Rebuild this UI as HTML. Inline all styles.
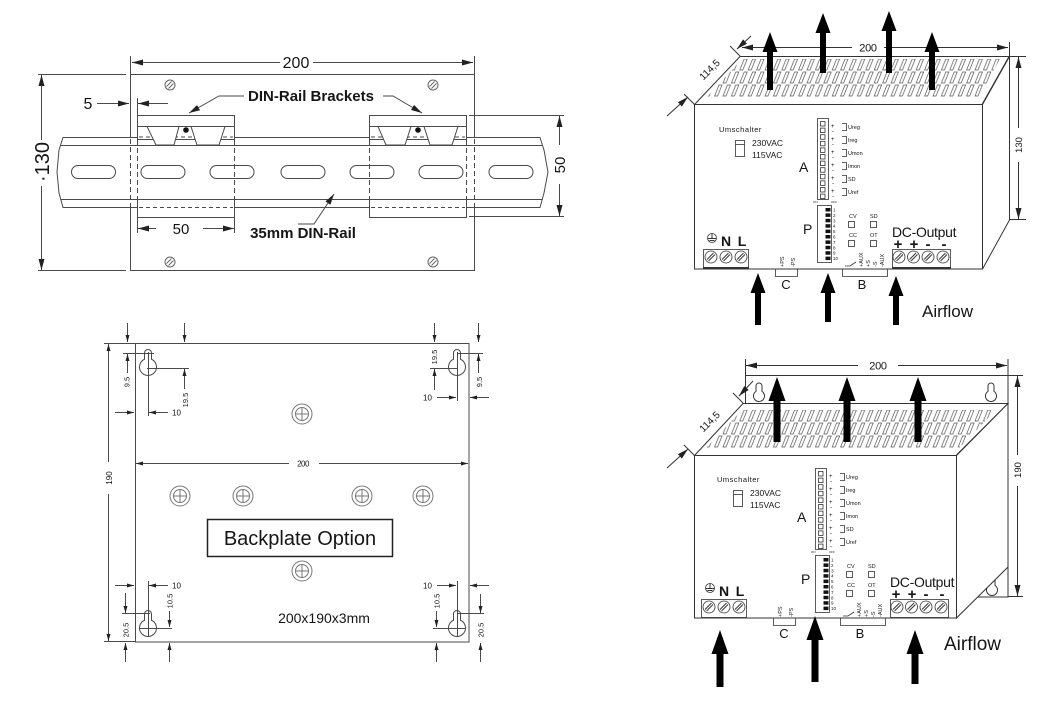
<!DOCTYPE html>
<html><head><meta charset="utf-8">
<style>
html,body{margin:0;padding:0;background:#fff;}
svg{display:block;}
text{font-family:"Liberation Sans",Arial,sans-serif;fill:#151515;}
</style></head><body>
<svg width="1060" height="703" viewBox="0 0 1060 703" xmlns="http://www.w3.org/2000/svg">
<defs>
<marker id="a" viewBox="0 0 11 6" refX="11" refY="3" markerWidth="11" markerHeight="6" orient="auto" markerUnits="userSpaceOnUse"><path d="M0,0L11,3L0,6z" fill="#222"/></marker>
<marker id="s" viewBox="0 0 7 4" refX="7" refY="2" markerWidth="7" markerHeight="4" orient="auto" markerUnits="userSpaceOnUse"><path d="M0,0L7,2L0,4z" fill="#222"/></marker>
<pattern id="g" x="0" y="6" width="8.4" height="13" patternUnits="userSpaceOnUse"><path d="M0.6,12 L3.6,12 L8,1 L5,1 Z" fill="none" stroke="#555" stroke-width="0.7"/></pattern>
</defs>

<!-- ================= DIN RAIL DRAWING ================= -->
<g stroke="#4a4a4a" stroke-width="1" fill="none">
  <rect x="130.5" y="74.5" width="344" height="196" fill="#fff"/>
  <line x1="130.5" y1="56" x2="130.5" y2="74"/>
  <line x1="474.5" y1="56" x2="474.5" y2="74"/>
  <!-- screws -->
  <g stroke="#666">
    <circle cx="170" cy="85" r="5"/><line x1="166.5" y1="86.5" x2="171.5" y2="81.5"/><line x1="168.5" y1="88.5" x2="173.5" y2="83.5"/>
    <circle cx="433" cy="85" r="5"/><line x1="429.5" y1="86.5" x2="434.5" y2="81.5"/><line x1="431.5" y1="88.5" x2="436.5" y2="83.5"/>
    <circle cx="170" cy="262" r="5"/><line x1="166.5" y1="263.5" x2="171.5" y2="258.5"/><line x1="168.5" y1="265.5" x2="173.5" y2="260.5"/>
    <circle cx="433" cy="262" r="5"/><line x1="429.5" y1="263.5" x2="434.5" y2="258.5"/><line x1="431.5" y1="265.5" x2="436.5" y2="260.5"/>
  </g>
  <!-- rail -->
  <path d="M63,137.5 L540,137.5 L544,150 L548,172 L544,193 L540,207.5 L63,207.5 L59,193 L57,172 L59,150 Z" fill="#fff"/>
  <line x1="61" y1="145.5" x2="542" y2="145.5"/>
  <line x1="61" y1="199.5" x2="542" y2="199.5"/>
  <g>
    <rect x="71.5" y="165.5" width="44" height="13" rx="6.5"/>
    <rect x="141" y="165.5" width="44" height="13" rx="6.5"/>
    <rect x="210" y="165.5" width="44" height="13" rx="6.5"/>
    <rect x="281" y="165.5" width="44" height="13" rx="6.5"/>
    <rect x="350" y="165.5" width="44" height="13" rx="6.5"/>
    <rect x="419" y="165.5" width="44" height="13" rx="6.5"/>
    <rect x="489" y="165.5" width="44" height="13" rx="6.5"/>
  </g>
  <!-- left bracket -->
  <rect x="137.5" y="115.5" width="97" height="24" fill="#fff"/>
  <line x1="137.5" y1="126.5" x2="234.5" y2="126.5"/>
  <line x1="139" y1="137" x2="233" y2="137" stroke-dasharray="4,3"/>
  <polygon points="147,126.5 156,145 174,145 179,126.5" fill="#fff"/>
  <polygon points="191,126.5 197,145 219,145 225,126.5" fill="#fff"/>
  <rect x="137.5" y="199.5" width="97" height="18" fill="#fff"/>
  <line x1="139" y1="207.5" x2="233" y2="207.5" stroke-dasharray="4,3"/>
  <!-- right bracket -->
  <rect x="369.5" y="115.5" width="97" height="24" fill="#fff"/>
  <line x1="369.5" y1="126.5" x2="466.5" y2="126.5"/>
  <line x1="371" y1="137" x2="465" y2="137" stroke-dasharray="4,3"/>
  <polygon points="378,126.5 386,145 405,145 411,126.5" fill="#fff"/>
  <polygon points="424,126.5 430,145 452,145 458,126.5" fill="#fff"/>
  <rect x="369.5" y="199.5" width="97" height="18" fill="#fff"/>
  <line x1="371" y1="207.5" x2="465" y2="207.5" stroke-dasharray="4,3"/>
  <!-- dashed verticals across rail -->
  <g stroke-dasharray="5,3">
    <line x1="130.5" y1="139" x2="130.5" y2="207"/>
    <line x1="137.5" y1="140" x2="137.5" y2="199"/>
    <line x1="234.5" y1="140" x2="234.5" y2="199"/>
    <line x1="369.5" y1="140" x2="369.5" y2="199"/>
    <line x1="466.5" y1="140" x2="466.5" y2="199"/>
    <line x1="474.5" y1="139" x2="474.5" y2="207"/>
  </g>
  <!-- dims -->
  <line x1="280" y1="62.5" x2="132" y2="62.5" marker-end="url(#a)"/>
  <line x1="313" y1="62.5" x2="473" y2="62.5" marker-end="url(#a)"/>
  <line x1="38" y1="74.5" x2="126" y2="74.5"/>
  <line x1="38" y1="270.5" x2="126" y2="270.5"/>
  <line x1="41.5" y1="140" x2="41.5" y2="75" marker-end="url(#a)"/>
  <line x1="41.5" y1="186" x2="41.5" y2="270" marker-end="url(#a)"/>
  <line x1="97" y1="103.5" x2="129" y2="103.5" marker-end="url(#a)"/>
  <line x1="168" y1="103.5" x2="138" y2="103.5" marker-end="url(#a)"/>
  <line x1="137.5" y1="98" x2="137.5" y2="115"/>
  <polyline points="244,96 219,96 189,113" marker-end="url(#a)"/>
  <polyline points="383,96 393,96 422,113" marker-end="url(#a)"/>
  <line x1="137.5" y1="217" x2="137.5" y2="233"/>
  <line x1="234.5" y1="217" x2="234.5" y2="233"/>
  <line x1="156" y1="228.5" x2="138" y2="228.5" marker-end="url(#a)"/>
  <line x1="203" y1="228.5" x2="234" y2="228.5" marker-end="url(#a)"/>
  <polyline points="298,224 314,224 334,194" marker-end="url(#a)"/>
  <line x1="469" y1="115.5" x2="564" y2="115.5"/>
  <line x1="469" y1="216.5" x2="564" y2="216.5"/>
  <line x1="559.5" y1="145" x2="559.5" y2="116" marker-end="url(#a)"/>
  <line x1="559.5" y1="184" x2="559.5" y2="216" marker-end="url(#a)"/>
</g>
<circle cx="186" cy="130" r="2.8" fill="#111"/>
<circle cx="418" cy="130" r="2.8" fill="#111"/>
<text x="296" y="68" font-size="16" text-anchor="middle">200</text>
<text x="49" y="162" font-size="20" text-anchor="middle" transform="rotate(-90 49 162)">·130</text>
<text x="88" y="109" font-size="16" text-anchor="middle">5</text>
<text x="311" y="101" font-size="15" font-weight="bold" text-anchor="middle">DIN-Rail Brackets</text>
<text x="181" y="234" font-size="15" text-anchor="middle">50</text>
<text x="303" y="238" font-size="15" font-weight="bold" text-anchor="middle">35mm DIN-Rail</text>
<text x="565" y="165" font-size="15" text-anchor="middle" transform="rotate(-90 565 165)">50</text>

<!-- ================= BACKPLATE DRAWING ================= -->
<g stroke="#4a4a4a" stroke-width="1" fill="none">
  <rect x="135.5" y="343.5" width="333.5" height="298.5"/>
  <!-- keyholes -->
  <path d="M144.5,353 A3.5 3.5 0 0 1 151.5,353 L151.5,359.25 A8.5 8.5 0 1 1 144.5,359.25 Z"/>
  <path d="M453.5,353 A3.5 3.5 0 0 1 460.5,353 L460.5,359.25 A8.5 8.5 0 1 1 453.5,359.25 Z"/>
  <path d="M144.5,614 A3.5 3.5 0 0 1 151.5,614 L151.5,620.25 A8.5 8.5 0 1 1 144.5,620.25 Z"/>
  <path d="M453.5,614 A3.5 3.5 0 0 1 460.5,614 L460.5,620.25 A8.5 8.5 0 1 1 453.5,620.25 Z"/>
  <!-- screws -->
  <g stroke="#777">
    <circle cx="302" cy="414" r="10"/><circle cx="302" cy="414" r="6.5"/><line x1="295" y1="414" x2="309" y2="414"/><line x1="302" y1="407" x2="302" y2="421"/>
    <circle cx="180" cy="496" r="10"/><circle cx="180" cy="496" r="6.5"/><line x1="173" y1="496" x2="187" y2="496"/><line x1="180" y1="489" x2="180" y2="503"/>
    <circle cx="243" cy="496" r="10"/><circle cx="243" cy="496" r="6.5"/><line x1="236" y1="496" x2="250" y2="496"/><line x1="243" y1="489" x2="243" y2="503"/>
    <circle cx="362" cy="496" r="10"/><circle cx="362" cy="496" r="6.5"/><line x1="355" y1="496" x2="369" y2="496"/><line x1="362" y1="489" x2="362" y2="503"/>
    <circle cx="423" cy="496" r="10"/><circle cx="423" cy="496" r="6.5"/><line x1="416" y1="496" x2="430" y2="496"/><line x1="423" y1="489" x2="423" y2="503"/>
    <circle cx="302" cy="571" r="10"/><circle cx="302" cy="571" r="6.5"/><line x1="295" y1="571" x2="309" y2="571"/><line x1="302" y1="564" x2="302" y2="578"/>
  </g>
  <!-- 190 / 200 -->
  <line x1="104" y1="343.5" x2="135" y2="343.5"/>
  <line x1="104" y1="641.5" x2="135" y2="641.5"/>
  <line x1="108.5" y1="462" x2="108.5" y2="344" marker-end="url(#s)"/>
  <line x1="108.5" y1="494" x2="108.5" y2="641" marker-end="url(#s)"/>
  <line x1="289" y1="463.5" x2="136" y2="463.5" marker-end="url(#s)"/>
  <line x1="319" y1="463.5" x2="468" y2="463.5" marker-end="url(#s)"/>
  <!-- TL -->
  <line x1="127.5" y1="323" x2="127.5" y2="342" marker-end="url(#s)"/>
  <line x1="127.5" y1="373" x2="127.5" y2="354" marker-end="url(#s)"/>
  <line x1="123" y1="353.5" x2="154" y2="353.5"/>
  <line x1="184.5" y1="323" x2="184.5" y2="342" marker-end="url(#s)"/>
  <line x1="184.5" y1="389" x2="184.5" y2="369" marker-end="url(#s)"/>
  <line x1="147" y1="368.5" x2="189" y2="368.5"/>
  <line x1="148.5" y1="352" x2="148.5" y2="416"/>
  <line x1="115" y1="412.5" x2="134" y2="412.5" marker-end="url(#s)"/>
  <line x1="168" y1="412.5" x2="149" y2="412.5" marker-end="url(#s)"/>
  <!-- TR -->
  <line x1="434.5" y1="323" x2="434.5" y2="342" marker-end="url(#s)"/>
  <line x1="434.5" y1="390" x2="434.5" y2="369" marker-end="url(#s)"/>
  <line x1="430" y1="368.5" x2="458" y2="368.5"/>
  <line x1="478.5" y1="323" x2="478.5" y2="342" marker-end="url(#s)"/>
  <line x1="478.5" y1="373" x2="478.5" y2="354" marker-end="url(#s)"/>
  <line x1="457" y1="353.5" x2="483" y2="353.5"/>
  <line x1="457.5" y1="352" x2="457.5" y2="401"/>
  <line x1="437" y1="397.5" x2="456" y2="397.5" marker-end="url(#s)"/>
  <line x1="489" y1="397.5" x2="470" y2="397.5" marker-end="url(#s)"/>
  <!-- BL -->
  <line x1="115" y1="585.5" x2="134" y2="585.5" marker-end="url(#s)"/>
  <line x1="168" y1="585.5" x2="149" y2="585.5" marker-end="url(#s)"/>
  <line x1="148.5" y1="581" x2="148.5" y2="637"/>
  <line x1="125.5" y1="593" x2="125.5" y2="613" marker-end="url(#s)"/>
  <line x1="125.5" y1="662" x2="125.5" y2="643" marker-end="url(#s)"/>
  <line x1="122" y1="613.5" x2="150" y2="613.5"/>
  <line x1="169.5" y1="611" x2="169.5" y2="627" marker-end="url(#s)"/>
  <line x1="169.5" y1="662" x2="169.5" y2="643" marker-end="url(#s)"/>
  <line x1="140" y1="628.5" x2="172" y2="628.5"/>
  <!-- BR -->
  <line x1="437" y1="585.5" x2="456" y2="585.5" marker-end="url(#s)"/>
  <line x1="489" y1="585.5" x2="470" y2="585.5" marker-end="url(#s)"/>
  <line x1="457.5" y1="581" x2="457.5" y2="637"/>
  <line x1="436.5" y1="611" x2="436.5" y2="627" marker-end="url(#s)"/>
  <line x1="436.5" y1="662" x2="436.5" y2="643" marker-end="url(#s)"/>
  <line x1="433" y1="628.5" x2="466" y2="628.5"/>
  <line x1="480.5" y1="594" x2="480.5" y2="613" marker-end="url(#s)"/>
  <line x1="480.5" y1="662" x2="480.5" y2="643" marker-end="url(#s)"/>
  <line x1="457" y1="613.5" x2="484" y2="613.5"/>
  <line x1="469.5" y1="580" x2="489" y2="580" stroke="none"/>
</g>
<g font-size="8">
  <text x="112" y="478" text-anchor="middle" transform="rotate(-90 112 478)">190</text>
  <text x="303" y="466.5" text-anchor="middle" letter-spacing="-0.5">200</text>
  <text x="129.5" y="382" font-size="7.5" text-anchor="middle" transform="rotate(-90 129.5 382)">9.5</text>
  <text x="188" y="400" font-size="7.5" text-anchor="middle" transform="rotate(-90 188 400)">19.5</text>
  <text x="172" y="415.5">10</text>
  <text x="437" y="357" font-size="7.5" text-anchor="middle" transform="rotate(-90 437 357)">19.5</text>
  <text x="482" y="382" font-size="7.5" text-anchor="middle" transform="rotate(-90 482 382)">9.5</text>
  <text x="423" y="400.5">10</text>
  <text x="172" y="588.5">10</text>
  <text x="128.5" y="630" font-size="7.5" text-anchor="middle" transform="rotate(-90 128.5 630)">20.5</text>
  <text x="172.5" y="601" font-size="7.5" text-anchor="middle" transform="rotate(-90 172.5 601)">10.5</text>
  <text x="423" y="588.5">10</text>
  <text x="439.5" y="601" font-size="7.5" text-anchor="middle" transform="rotate(-90 439.5 601)">10.5</text>
  <text x="483.5" y="630" font-size="7.5" text-anchor="middle" transform="rotate(-90 483.5 630)">20.5</text>
</g>
<rect x="207.5" y="519.5" width="185" height="37" fill="#fff" stroke="#222" stroke-width="1.5"/>
<text x="300" y="545" font-size="20" text-anchor="middle">Backplate Option</text>
<text x="324" y="623" font-size="14" text-anchor="middle" fill="#333">200x190x3mm</text>

<!-- ================= TOP-RIGHT UNIT ================= -->
<g stroke="#333" stroke-width="1">
  <polygon points="694.5,104.5 740,56.5 1009,56.5 982,104.5" fill="#fff"/>
  <polygon points="707,97 742,59 1000,59 979,97" fill="url(#g)" stroke="none"/>
  <polygon points="982.5,104.5 1009.5,56.5 1009.5,220 982.5,269" fill="#fff"/>
  <rect x="694.5" y="104.5" width="288" height="164.5" fill="#fff"/>
  <!-- dims -->
  <line x1="852" y1="47.5" x2="742" y2="47.5" marker-end="url(#a)"/>
  <line x1="884" y1="47.5" x2="1008" y2="47.5" marker-end="url(#a)"/>
  <line x1="1009.5" y1="42" x2="1009.5" y2="56"/>
  <line x1="1010" y1="56.5" x2="1026" y2="56.5"/>
  <line x1="1010" y1="219.5" x2="1026" y2="219.5"/>
  <line x1="1018.5" y1="128" x2="1018.5" y2="57" marker-end="url(#a)"/>
  <line x1="1018.5" y1="162" x2="1018.5" y2="219" marker-end="url(#a)"/>
  <line x1="694" y1="104" x2="684" y2="94"/>
  <line x1="740" y1="56" x2="730" y2="46"/>
  <line x1="667" y1="116" x2="688" y2="97" marker-end="url(#a)"/>
  <line x1="751" y1="36" x2="737" y2="49" marker-end="url(#a)"/>
</g>
<text x="868" y="51.5" font-size="11" text-anchor="middle" letter-spacing="-0.3">200</text>
<text x="1022" y="145" font-size="9.5" text-anchor="middle" transform="rotate(-90 1022 145)">130</text>
<text x="712" y="72" font-size="10" text-anchor="middle" transform="rotate(-45 712 72)">114,5</text>

<g id="panel1">
  <text x="719" y="132" font-size="7.5" letter-spacing="0.5">Umschalter</text>
  <g fill="none" stroke="#333" stroke-width="0.8">
    <rect x="735.5" y="140.5" width="9" height="16"/>
    <line x1="735.5" y1="144.5" x2="744.5" y2="144.5"/>
    <rect x="817.5" y="118.5" width="11" height="81"/>
    <rect x="820.5" y="121.5" width="4.5" height="4.5"/><rect x="820.5" y="128.1" width="4.5" height="4.5"/>
    <rect x="820.5" y="134.7" width="4.5" height="4.5"/><rect x="820.5" y="141.3" width="4.5" height="4.5"/>
    <rect x="820.5" y="147.9" width="4.5" height="4.5"/><rect x="820.5" y="154.5" width="4.5" height="4.5"/>
    <rect x="820.5" y="161.1" width="4.5" height="4.5"/><rect x="820.5" y="167.7" width="4.5" height="4.5"/>
    <rect x="820.5" y="174.3" width="4.5" height="4.5"/><rect x="820.5" y="180.9" width="4.5" height="4.5"/>
    <rect x="820.5" y="187.5" width="4.5" height="4.5"/><rect x="820.5" y="194.1" width="4.5" height="4.5"/>
    <path d="M842,123.5 H846.5 V130.5 H842"/>
    <path d="M842,136.5 H846.5 V143.5 H842"/>
    <path d="M842,149.5 H846.5 V156.5 H842"/>
    <path d="M842,162.5 H846.5 V169.5 H842"/>
    <path d="M842,175.5 H846.5 V182.5 H842"/>
    <path d="M842,188.5 H846.5 V195.5 H842"/>
    <rect x="817.5" y="205.5" width="14" height="57"/>
    <rect x="848.5" y="221.5" width="6" height="6"/>
    <rect x="870.5" y="221.5" width="6" height="6"/>
    <rect x="848.5" y="240.5" width="6" height="6"/>
    <rect x="870.5" y="240.5" width="6" height="6"/>
    <path d="M775.5,269 V276.5 H797.5 V269"/>
    <path d="M842.5,269 V276.5 H887.5 V269"/>
    <polyline points="845,266 850,266 856,262"/>
    <rect x="892.5" y="249.5" width="58" height="19"/>
    <rect x="703.5" y="249.5" width="45" height="19"/>
    <circle cx="899" cy="257" r="6"/><circle cx="913.5" cy="257" r="6"/><circle cx="928" cy="257" r="6"/><circle cx="943" cy="257" r="6"/>
    <circle cx="711" cy="257" r="6"/><circle cx="726" cy="257" r="6"/><circle cx="741" cy="257" r="6"/>
    <circle cx="712" cy="238" r="4.5"/>
  </g>
  <g stroke="#333" stroke-width="1">
    <line x1="895" y1="259.5" x2="901.5" y2="253"/><line x1="896.5" y1="261" x2="903" y2="254.5"/>
    <line x1="909.5" y1="259.5" x2="916" y2="253"/><line x1="911" y1="261" x2="917.5" y2="254.5"/>
    <line x1="924" y1="259.5" x2="930.5" y2="253"/><line x1="925.5" y1="261" x2="932" y2="254.5"/>
    <line x1="939" y1="259.5" x2="945.5" y2="253"/><line x1="940.5" y1="261" x2="947" y2="254.5"/>
    <line x1="707" y1="259.5" x2="713.5" y2="253"/><line x1="708.5" y1="261" x2="715" y2="254.5"/>
    <line x1="722" y1="259.5" x2="728.5" y2="253"/><line x1="723.5" y1="261" x2="730" y2="254.5"/>
    <line x1="737" y1="259.5" x2="743.5" y2="253"/><line x1="738.5" y1="261" x2="745" y2="254.5"/>
    <line x1="892" y1="268" x2="951" y2="268" stroke-width="2"/>
    <line x1="703" y1="268" x2="749" y2="268" stroke-width="2"/>
    <line x1="712" y1="233.5" x2="712" y2="238.5"/>
    <line x1="708" y1="238.5" x2="716" y2="238.5"/>
    <line x1="709.5" y1="240.5" x2="714.5" y2="240.5"/>
  </g>
  <g fill="#111">
    <rect x="825.5" y="208" width="5" height="3.5"/><rect x="825.5" y="213.4" width="5" height="3.5"/>
    <rect x="825.5" y="218.8" width="5" height="3.5"/><rect x="825.5" y="224.2" width="5" height="3.5"/>
    <rect x="825.5" y="229.6" width="5" height="3.5"/><rect x="825.5" y="235" width="5" height="3.5"/>
    <rect x="825.5" y="240.4" width="5" height="3.5"/><rect x="825.5" y="245.8" width="5" height="3.5"/>
    <rect x="825.5" y="251.2" width="5" height="3.5"/><rect x="825.5" y="256.6" width="5" height="3.5"/>
  </g>
  <text x="752" y="146" font-size="8.5">230VAC</text>
  <text x="752" y="158" font-size="8.5">115VAC</text>
  <text x="799" y="172" font-size="14">A</text>
  <text x="803" y="234" font-size="14">P</text>
  <g font-size="6">
    <text x="831" y="128">+</text><text x="832" y="133">-</text>
    <text x="831" y="141">+</text><text x="832" y="146">-</text>
    <text x="831" y="154">+</text><text x="832" y="159">-</text>
    <text x="831" y="167">+</text><text x="832" y="172">-</text>
    <text x="831" y="180">+</text><text x="832" y="185">-</text>
    <text x="831" y="193">+</text><text x="832" y="198">-</text>
  </g>
  <g font-size="5.5">
    <text x="848" y="129">Ureg</text>
    <text x="848" y="142">Ireg</text>
    <text x="848" y="155">Umon</text>
    <text x="848" y="168">Imon</text>
    <text x="848" y="181">SD</text>
    <text x="848" y="194">Uref</text>
    <text x="849" y="218">CV</text>
    <text x="870" y="218">SD</text>
    <text x="849" y="237">CC</text>
    <text x="870" y="237">OT</text>
  </g>
  <g font-size="4.5">
    <text x="833" y="211.5">1</text><text x="833" y="216.9">2</text><text x="833" y="222.3">3</text>
    <text x="833" y="227.7">4</text><text x="833" y="233.1">5</text><text x="833" y="238.5">6</text>
    <text x="833" y="243.9">7</text><text x="833" y="249.3">8</text><text x="833" y="254.7">9</text>
    <text x="833" y="260.1">10</text>
    <text x="813" y="203" font-size="3">ON</text><text x="831" y="203" font-size="3">OFF</text>
  </g>
  <g font-size="5.5">
    <text x="784" y="267" transform="rotate(-90 784 267)">+PS</text>
    <text x="795" y="267" transform="rotate(-90 795 267)">-PS</text>
    <text x="863" y="267" transform="rotate(-90 863 267)">+AUX</text>
    <text x="870" y="267" transform="rotate(-90 870 267)">+S</text>
    <text x="877" y="267" transform="rotate(-90 877 267)">-S</text>
    <text x="884" y="267" transform="rotate(-90 884 267)">-AUX</text>
  </g>
  <text x="786" y="289" font-size="13" text-anchor="middle">C</text>
  <text x="862" y="289" font-size="13" text-anchor="middle">B</text>
  <text x="726" y="246" font-size="14" font-weight="bold" text-anchor="middle">N</text>
  <text x="742" y="246" font-size="14" font-weight="bold" text-anchor="middle">L</text>
  <text x="892" y="237" font-size="14" letter-spacing="-0.3">DC-Output</text>
  <g font-size="15" font-weight="bold" text-anchor="middle">
    <text x="898" y="249">+</text><text x="914" y="249">+</text><text x="928" y="249">-</text><text x="944" y="249">-</text>
  </g>
</g>

<g fill="#000">
  <polygon points="767,90 767,52 762.5,52 770,32 777.5,52 773,52 773,90"/>
  <polygon points="820,73 820,33 815.5,33 823,13 830.5,33 826,33 826,73"/>
  <polygon points="886,73 886,31 881.5,31 889,11 896.5,31 892,31 892,73"/>
  <polygon points="929,90 929,52 924.5,52 932,32 939.5,52 935,52 935,90"/>
  <polygon points="755,325 755,293 750.5,293 758,273 765.5,293 761,293 761,325"/>
  <polygon points="825,322 825,293 820.5,293 828,273 835.5,293 831,293 831,322"/>
  <polygon points="893,325 893,296 888.5,296 896,276 903.5,296 899,296 899,325"/>
</g>
<text x="922" y="317" font-size="17" fill="#333">Airflow</text>

<!-- ================= BOTTOM-RIGHT UNIT ================= -->
<g stroke="#333" stroke-width="1">
  <rect x="745.5" y="375.5" width="262.5" height="221.5" fill="#fff"/>
  <g fill="none">
    <path d="M756,386 A3 3 0 0 1 762,386 L762,391.39 A5.5 5.5 0 1 1 756,391.39 Z"/>
    <path d="M988,386 A3 3 0 0 1 994,386 L994,391.39 A5.5 5.5 0 1 1 988,391.39 Z"/>
    <path d="M989,580 A3 3 0 0 1 995,580 L995,585.39 A5.5 5.5 0 1 1 989,585.39 Z"/>
  </g>
  <polygon points="694.5,455.5 743,403.5 1008,403.5 956,455.5" fill="#fff"/>
  <polygon points="706,448 742,410 996,410 959,448" fill="url(#g)" stroke="none"/>
  <polygon points="956.5,455.5 1008,403.5 1008,567 956.5,618" fill="#fff"/>
  <rect x="694.5" y="455.5" width="262" height="162.5" fill="#fff"/>
  <!-- dims -->
  <line x1="745.5" y1="359" x2="745.5" y2="375"/>
  <line x1="1008" y1="359" x2="1008" y2="375"/>
  <line x1="858" y1="365.5" x2="746" y2="365.5" marker-end="url(#a)"/>
  <line x1="898" y1="365.5" x2="1007" y2="365.5" marker-end="url(#a)"/>
  <line x1="1008" y1="375.5" x2="1023" y2="375.5"/>
  <line x1="1008" y1="596.5" x2="1023" y2="596.5"/>
  <line x1="1017.5" y1="455" x2="1017.5" y2="376" marker-end="url(#a)"/>
  <line x1="1017.5" y1="486" x2="1017.5" y2="596" marker-end="url(#a)"/>
  <line x1="694" y1="455" x2="684" y2="445"/>
  <line x1="743" y1="403" x2="733" y2="393"/>
  <line x1="667" y1="468" x2="688" y2="449" marker-end="url(#a)"/>
  <line x1="753" y1="381" x2="739" y2="396" marker-end="url(#a)"/>
</g>
<text x="878" y="369.5" font-size="11" text-anchor="middle" letter-spacing="-0.3">200</text>
<text x="1021" y="470" font-size="9.5" text-anchor="middle" transform="rotate(-90 1021 470)">190</text>
<text x="712" y="424" font-size="10" text-anchor="middle" transform="rotate(-45 712 424)">114,5</text>

<g transform="translate(-2,350)">
  <text x="719" y="132" font-size="7.5" letter-spacing="0.5">Umschalter</text>
  <g fill="none" stroke="#333" stroke-width="0.8">
    <rect x="735.5" y="140.5" width="9" height="16"/>
    <line x1="735.5" y1="144.5" x2="744.5" y2="144.5"/>
    <rect x="817.5" y="118.5" width="11" height="81"/>
    <rect x="820.5" y="121.5" width="4.5" height="4.5"/><rect x="820.5" y="128.1" width="4.5" height="4.5"/>
    <rect x="820.5" y="134.7" width="4.5" height="4.5"/><rect x="820.5" y="141.3" width="4.5" height="4.5"/>
    <rect x="820.5" y="147.9" width="4.5" height="4.5"/><rect x="820.5" y="154.5" width="4.5" height="4.5"/>
    <rect x="820.5" y="161.1" width="4.5" height="4.5"/><rect x="820.5" y="167.7" width="4.5" height="4.5"/>
    <rect x="820.5" y="174.3" width="4.5" height="4.5"/><rect x="820.5" y="180.9" width="4.5" height="4.5"/>
    <rect x="820.5" y="187.5" width="4.5" height="4.5"/><rect x="820.5" y="194.1" width="4.5" height="4.5"/>
    <path d="M842,123.5 H846.5 V130.5 H842"/>
    <path d="M842,136.5 H846.5 V143.5 H842"/>
    <path d="M842,149.5 H846.5 V156.5 H842"/>
    <path d="M842,162.5 H846.5 V169.5 H842"/>
    <path d="M842,175.5 H846.5 V182.5 H842"/>
    <path d="M842,188.5 H846.5 V195.5 H842"/>
    <rect x="817.5" y="205.5" width="14" height="57"/>
    <rect x="848.5" y="221.5" width="6" height="6"/>
    <rect x="870.5" y="221.5" width="6" height="6"/>
    <rect x="848.5" y="240.5" width="6" height="6"/>
    <rect x="870.5" y="240.5" width="6" height="6"/>
    <path d="M775.5,268 V275.5 H797.5 V268"/>
    <path d="M842.5,268 V275.5 H887.5 V268"/>
    <polyline points="845,266 850,266 856,262"/>
    <rect x="892.5" y="249.5" width="58" height="18"/>
    <rect x="703.5" y="249.5" width="45" height="18"/>
    <circle cx="899" cy="257" r="6"/><circle cx="913.5" cy="257" r="6"/><circle cx="928" cy="257" r="6"/><circle cx="943" cy="257" r="6"/>
    <circle cx="711" cy="257" r="6"/><circle cx="726" cy="257" r="6"/><circle cx="741" cy="257" r="6"/>
    <circle cx="712" cy="238" r="4.5"/>
  </g>
  <g stroke="#333" stroke-width="1">
    <line x1="895" y1="259.5" x2="901.5" y2="253"/><line x1="896.5" y1="261" x2="903" y2="254.5"/>
    <line x1="909.5" y1="259.5" x2="916" y2="253"/><line x1="911" y1="261" x2="917.5" y2="254.5"/>
    <line x1="924" y1="259.5" x2="930.5" y2="253"/><line x1="925.5" y1="261" x2="932" y2="254.5"/>
    <line x1="939" y1="259.5" x2="945.5" y2="253"/><line x1="940.5" y1="261" x2="947" y2="254.5"/>
    <line x1="707" y1="259.5" x2="713.5" y2="253"/><line x1="708.5" y1="261" x2="715" y2="254.5"/>
    <line x1="722" y1="259.5" x2="728.5" y2="253"/><line x1="723.5" y1="261" x2="730" y2="254.5"/>
    <line x1="737" y1="259.5" x2="743.5" y2="253"/><line x1="738.5" y1="261" x2="745" y2="254.5"/>
    <line x1="712" y1="233.5" x2="712" y2="238.5"/>
    <line x1="708" y1="238.5" x2="716" y2="238.5"/>
    <line x1="709.5" y1="240.5" x2="714.5" y2="240.5"/>
  </g>
  <g fill="#111">
    <rect x="825.5" y="208" width="5" height="3.5"/><rect x="825.5" y="213.4" width="5" height="3.5"/>
    <rect x="825.5" y="218.8" width="5" height="3.5"/><rect x="825.5" y="224.2" width="5" height="3.5"/>
    <rect x="825.5" y="229.6" width="5" height="3.5"/><rect x="825.5" y="235" width="5" height="3.5"/>
    <rect x="825.5" y="240.4" width="5" height="3.5"/><rect x="825.5" y="245.8" width="5" height="3.5"/>
    <rect x="825.5" y="251.2" width="5" height="3.5"/><rect x="825.5" y="256.6" width="5" height="3.5"/>
  </g>
  <text x="752" y="146" font-size="8.5">230VAC</text>
  <text x="752" y="158" font-size="8.5">115VAC</text>
  <text x="799" y="172" font-size="14">A</text>
  <text x="803" y="234" font-size="14">P</text>
  <g font-size="6">
    <text x="831" y="128">+</text><text x="832" y="133">-</text>
    <text x="831" y="141">+</text><text x="832" y="146">-</text>
    <text x="831" y="154">+</text><text x="832" y="159">-</text>
    <text x="831" y="167">+</text><text x="832" y="172">-</text>
    <text x="831" y="180">+</text><text x="832" y="185">-</text>
    <text x="831" y="193">+</text><text x="832" y="198">-</text>
  </g>
  <g font-size="5.5">
    <text x="848" y="129">Ureg</text>
    <text x="848" y="142">Ireg</text>
    <text x="848" y="155">Umon</text>
    <text x="848" y="168">Imon</text>
    <text x="848" y="181">SD</text>
    <text x="848" y="194">Uref</text>
    <text x="849" y="218">CV</text>
    <text x="870" y="218">SD</text>
    <text x="849" y="237">CC</text>
    <text x="870" y="237">OT</text>
  </g>
  <g font-size="4.5">
    <text x="833" y="211.5">1</text><text x="833" y="216.9">2</text><text x="833" y="222.3">3</text>
    <text x="833" y="227.7">4</text><text x="833" y="233.1">5</text><text x="833" y="238.5">6</text>
    <text x="833" y="243.9">7</text><text x="833" y="249.3">8</text><text x="833" y="254.7">9</text>
    <text x="833" y="260.1">10</text>
    <text x="813" y="203" font-size="3">ON</text><text x="831" y="203" font-size="3">OFF</text>
  </g>
  <g font-size="5.5">
    <text x="784" y="267" transform="rotate(-90 784 267)">+PS</text>
    <text x="795" y="267" transform="rotate(-90 795 267)">-PS</text>
    <text x="863" y="267" transform="rotate(-90 863 267)">+AUX</text>
    <text x="870" y="267" transform="rotate(-90 870 267)">+S</text>
    <text x="877" y="267" transform="rotate(-90 877 267)">-S</text>
    <text x="884" y="267" transform="rotate(-90 884 267)">-AUX</text>
  </g>
  <text x="786" y="288" font-size="13" text-anchor="middle">C</text>
  <text x="862" y="288" font-size="13" text-anchor="middle">B</text>
  <text x="726" y="246" font-size="14" font-weight="bold" text-anchor="middle">N</text>
  <text x="742" y="246" font-size="14" font-weight="bold" text-anchor="middle">L</text>
  <text x="892" y="237" font-size="14" letter-spacing="-0.3">DC-Output</text>
  <g font-size="15" font-weight="bold" text-anchor="middle">
    <text x="898" y="249">+</text><text x="914" y="249">+</text><text x="928" y="249">-</text><text x="944" y="249">-</text>
  </g>
</g>

<g fill="#000">
  <polygon points="773.5,442 773.5,401 768.5,401 777,377 785.5,401 780.5,401 780.5,442"/>
  <polygon points="843.5,442 843.5,401 838.5,401 847,377 855.5,401 850.5,401 850.5,442"/>
  <polygon points="914.5,442 914.5,401 909.5,401 918,377 926.5,401 921.5,401 921.5,442"/>
  <polygon points="716.5,687 716.5,654 711.5,654 720,630 728.5,654 723.5,654 723.5,687"/>
  <polygon points="811.5,682 811.5,640 806.5,640 815,616 823.5,640 818.5,640 818.5,682"/>
  <polygon points="911.5,684 911.5,654 906.5,654 915,630 923.5,654 918.5,654 918.5,684"/>
</g>
<text x="944" y="650" font-size="19" fill="#333">Airflow</text>
</svg>
</body></html>
